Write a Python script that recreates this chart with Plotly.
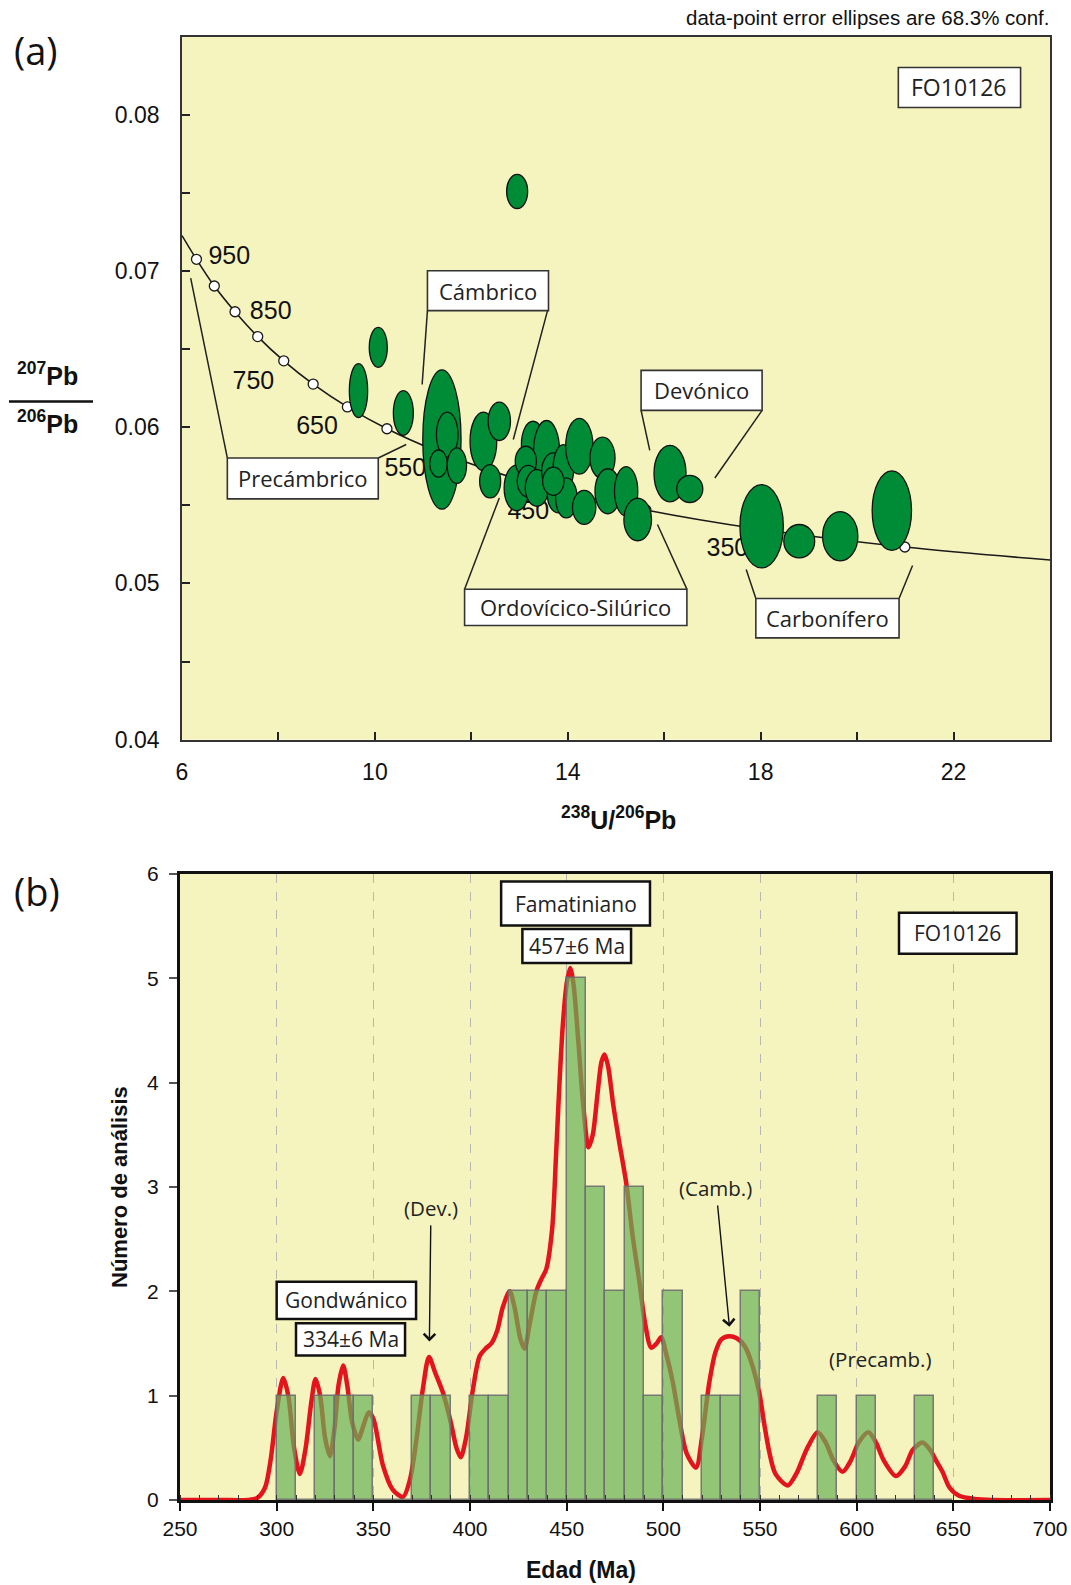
import plotly.graph_objects as go

W, H = 1071, 1585
BG = "#F6F4BE"
ARIAL = "Liberation Sans, Arial, sans-serif"
MYR = "Open Sans, sans-serif"

# ---------------- Panel (a): Tera-Wasserburg concordia ----------------
# concordia curve (238U/206Pb, 207Pb/206Pb)
conc_x = [24.0, 20.99, 17.92, 15.62, 13.83, 12.40, 11.23, 10.25, 9.43, 8.72, 8.11, 7.57, 7.10, 6.67, 6.30, 6.0]
conc_y = [0.05150, 0.05233, 0.05350, 0.05470, 0.05594, 0.05722, 0.05854, 0.05990, 0.06130,
          0.06276, 0.06425, 0.06580, 0.06739, 0.06904, 0.07075, 0.07227]
# age markers (every 50 Ma, 300-950 Ma)
mark_x = [20.99, 17.92, 15.62, 13.83, 12.40, 11.23, 10.25, 9.43, 8.72, 8.11, 7.57, 7.10, 6.67, 6.30]
mark_y = [0.05233, 0.05350, 0.05470, 0.05594, 0.05722, 0.05854, 0.05990, 0.06130,
          0.06276, 0.06425, 0.06580, 0.06739, 0.06904, 0.07075]
age_lab = ["950", "850", "750", "650", "550", "450", "350"]
age_lab_x = [6.98, 7.84, 7.48, 8.80, 10.63, 13.18, 17.31]
age_lab_y = [0.07083, 0.06731, 0.06286, 0.05997, 0.05729, 0.05451, 0.05214]

# error ellipses: centre and semi-axes
ell_x = [12.95, 10.07, 9.66, 10.59, 11.39, 11.50, 11.32, 11.70, 12.25, 12.58, 12.39, 12.94,
         13.28, 13.56, 13.13, 13.18, 13.36, 13.70, 13.91, 13.80, 13.97, 13.70, 14.24, 14.72,
         14.34, 14.83, 15.21, 15.45, 16.12, 16.53, 18.02, 18.80, 19.65, 20.72]
ell_y = [0.07509, 0.06511, 0.06234, 0.06091, 0.05921, 0.05953, 0.05767, 0.05754, 0.05910,
         0.06038, 0.05654, 0.05611, 0.05889, 0.05846, 0.05782, 0.05654, 0.05611, 0.05718,
         0.05739, 0.05569, 0.05547, 0.05654, 0.05878, 0.05803, 0.05487, 0.05590, 0.05590,
         0.05409, 0.05703, 0.05605, 0.05366, 0.05270, 0.05302, 0.05466]
ell_rx = [0.218, 0.187, 0.190, 0.207, 0.397, 0.224, 0.183, 0.200, 0.277, 0.232, 0.218, 0.260,
          0.242, 0.270, 0.220, 0.228, 0.242, 0.242, 0.214, 0.224, 0.224, 0.221, 0.283, 0.260,
          0.242, 0.266, 0.242, 0.287, 0.332, 0.270, 0.450, 0.320, 0.366, 0.408]
ell_ry = [0.00109, 0.00128, 0.00173, 0.00143, 0.00446, 0.00144, 0.00087, 0.00114, 0.00187,
          0.00123, 0.00107, 0.00146, 0.00149, 0.00197, 0.00096, 0.00101, 0.00117, 0.00117,
          0.00149, 0.00117, 0.00128, 0.00090, 0.00179, 0.00133, 0.00109, 0.00144, 0.00158,
          0.00136, 0.00181, 0.00087, 0.00267, 0.00107, 0.00158, 0.00255]

# period call-out boxes (x0, x1, y0, y1) and leader lines
callout_text = ["Cámbrico", "Precámbrico", "Devónico", "Ordovícico-Silúrico", "Carbonífero"]
callout_box = [(11.09, 13.60, 0.06746, 0.07002), (6.94, 10.07, 0.05541, 0.05803),
               (15.52, 18.03, 0.06108, 0.06364), (11.86, 16.47, 0.04730, 0.04963),
               (17.90, 20.87, 0.04651, 0.04903)]
callout_lines = [[((11.09, 0.06746), (10.98, 0.06273)), ((13.58, 0.06746), (12.87, 0.05921))],
                 [((6.94, 0.05803), (6.18, 0.06955)), ((10.07, 0.05803), (10.65, 0.05889))],
                 [((15.52, 0.06108), (15.70, 0.05852)), ((18.03, 0.06108), (17.05, 0.05675))],
                 [((11.86, 0.04963), (12.58, 0.05547)), ((16.47, 0.04963), (15.86, 0.05377))],
                 [((17.90, 0.04903), (17.70, 0.05089)), ((20.87, 0.04903), (21.15, 0.05114))]]

# ---------------- Panel (b): age histogram + probability curve ----------------
bin_start = [300, 310, 320, 330, 340, 350, 360, 370, 380, 390, 400, 410, 420, 430, 440, 450,
             460, 470, 480, 490, 500, 510, 520, 530, 540, 550, 560, 570, 580, 590, 600, 610,
             620, 630, 640]
bin_count = [1, 0, 1, 1, 1, 0, 0, 1, 1, 0, 1, 1, 2, 2, 2, 5,
             3, 2, 3, 1, 2, 0, 1, 1, 2, 0, 0, 0, 1, 0, 1, 0,
             0, 1, 0]
bin_width = 10

pdf_age = [250, 270, 285, 290, 294, 297, 300, 303.4, 306, 309, 312, 315, 318, 320.1, 322.5, 325,
           327.5, 330, 332, 334.4, 336.5, 339, 342.1, 345, 347.6, 350, 355, 360, 365.4, 369,
           372.3, 375.5, 378.8, 382, 386, 390, 393, 395.2, 398, 401.5, 405, 408, 411, 414, 417,
           420.5, 423, 426, 428.2, 431, 434.3, 437, 439.4, 442.5, 444.5, 446.3, 448, 450, 451.8,
           453.5, 456, 458.5, 461.3, 463.5, 466, 468, 469.6, 471.5, 474, 477, 480.8, 484, 487.7,
           490.5, 493.7, 496.5, 498.9, 501.5, 504.9, 508, 512, 516.9, 520, 523.8, 527, 530,
           534.1, 538, 541.9, 545, 549.6, 552, 554.8, 558, 564.3, 569, 574, 579.8, 584, 588,
           592.7, 597, 601, 606.1, 610, 614, 620.3, 625, 629, 634, 638, 641, 644.4, 648, 653,
           661, 670, 700]
pdf_val = [0.0, 0.0, 0.0, 0.02, 0.12, 0.40, 0.85, 1.17, 1.00, 0.50, 0.25, 0.50, 0.95, 1.16, 1.00,
           0.60, 0.42, 0.70, 1.10, 1.29, 1.10, 0.75, 0.58, 0.72, 0.84, 0.78, 0.33, 0.10, 0.03,
           0.20, 0.58, 1.05, 1.37, 1.22, 1.03, 0.75, 0.50, 0.41, 0.60, 1.06, 1.38, 1.45, 1.50,
           1.62, 1.85, 2.00, 1.85, 1.55, 1.45, 1.70, 2.00, 2.12, 2.21, 2.60, 3.30, 4.00, 4.55,
           4.95, 5.10, 4.95, 4.40, 3.80, 3.38, 3.50, 3.90, 4.20, 4.27, 4.15, 3.80, 3.45, 3.04,
           2.55, 2.08, 1.70, 1.46, 1.50, 1.56, 1.40, 1.13, 0.80, 0.45, 0.31, 0.60, 1.13, 1.42,
           1.54, 1.57, 1.55, 1.48, 1.35, 1.03, 0.75, 0.46, 0.25, 0.14, 0.26, 0.48, 0.65, 0.55,
           0.38, 0.27, 0.38, 0.55, 0.65, 0.55, 0.38, 0.23, 0.32, 0.48, 0.55, 0.48, 0.38, 0.27,
           0.12, 0.04, 0.01, 0.0, 0.0]

# boxed labels in panel b: text, (x0, x1, y0, y1)
b_box_text = ["Famatiniano", "457±6 Ma", "Gondwánico", "334±6 Ma", "FO10126"]
b_box = [(416.1, 493.1, 5.506, 5.928), (427.1, 483.3, 5.146, 5.472),
         (300.0, 372.1, 1.735, 2.093), (310.0, 366.4, 1.384, 1.694),
         (621.9, 682.7, 5.235, 5.628)]
# arrow notes: text, text position, arrow head (None = no arrow)
note_text = ["(Dev.)", "(Camb.)", "(Precamb.)"]
note_pos = [(379.8, 2.80), (527.2, 2.99), (612.1, 1.35)]
note_head = [(379.0, 1.52), (534.2, 1.66), None]


def px(x):
    return x / W


def py(y):
    return 1 - y / H


fig = go.Figure()

# ----- panel a traces -----
fig.add_trace(go.Scatter(x=conc_x, y=conc_y, mode="lines", line=dict(color="#1a1a1a", width=1.6, shape="spline"),
                         xaxis="x", yaxis="y", hoverinfo="skip", showlegend=False))
fig.add_trace(go.Scatter(x=mark_x, y=mark_y, mode="markers",
                         marker=dict(size=10, color="white", line=dict(color="#1a1a1a", width=1.3)),
                         xaxis="x", yaxis="y", showlegend=False))
fig.add_trace(go.Scatter(x=age_lab_x, y=age_lab_y, mode="text", text=age_lab,
                         textfont=dict(family=ARIAL, size=25, color="#111"),
                         xaxis="x", yaxis="y", showlegend=False))

shapes = []
for cx, cy, rx, ry in zip(ell_x, ell_y, ell_rx, ell_ry):
    shapes.append(dict(type="circle", xref="x", yref="y", x0=cx - rx, x1=cx + rx, y0=cy - ry, y1=cy + ry,
                       fillcolor="#008C36", line=dict(color="#111", width=1.3), layer="above"))

annotations = []
for txt, (x0, x1, y0, y1), lines in zip(callout_text, callout_box, callout_lines):
    for (a, b) in lines:
        shapes.append(dict(type="line", xref="x", yref="y", x0=a[0], y0=a[1], x1=b[0], y1=b[1],
                           line=dict(color="#222", width=1.5), layer="above"))
    shapes.append(dict(type="rect", xref="x", yref="y", x0=x0, x1=x1, y0=y0, y1=y1,
                       fillcolor="white", line=dict(color="#333", width=1.6), layer="above"))
    annotations.append(dict(text=txt, xref="x", yref="y", x=(x0 + x1) / 2, y=(y0 + y1) / 2,
                            xanchor="center", yanchor="middle",
                            showarrow=False, font=dict(family=MYR, size=22, color="#222")))

# FO10126 in panel a
shapes.append(dict(type="rect", xref="x", yref="y", x0=20.855, x1=23.39, y0=0.08047, y1=0.08303,
                   fillcolor="white", line=dict(color="#333", width=1.6), layer="above"))
annotations.append(dict(text="FO10126", xref="x", yref="y", x=22.12, y=0.08175, showarrow=False,
                        xanchor="center", yanchor="middle",
                        font=dict(family=MYR, size=23, color="#222")))

# ----- panel b traces -----
fig.add_trace(go.Scatter(x=pdf_age, y=pdf_val, mode="lines",
                         line=dict(color="#E3141C", width=4.5, shape="spline", smoothing=0.8),
                         xaxis="x2", yaxis="y2", hoverinfo="skip", showlegend=False))
fig.add_trace(go.Bar(x=bin_start, y=bin_count, width=bin_width, offset=0,
                     marker=dict(color="rgba(104,176,86,0.70)", line=dict(color="rgba(110,110,110,0.9)", width=1.5)),
                     xaxis="x2", yaxis="y3", showlegend=False))

for txt, (x0, x1, y0, y1) in zip(b_box_text, b_box):
    shapes.append(dict(type="rect", xref="x2", yref="y2", x0=x0, x1=x1, y0=y0, y1=y1,
                       fillcolor="white", line=dict(color="#111", width=2.5), layer="above"))
    annotations.append(dict(text=txt, xref="x2", yref="y2", x=(x0 + x1) / 2, y=(y0 + y1) / 2,
                            xanchor="center", yanchor="middle",
                            showarrow=False, font=dict(family=MYR, size=21, color="#222")))

for txt, pos, head in zip(note_text, note_pos, note_head):
    if head is None:
        annotations.append(dict(text=txt, xref="x2", yref="y2", x=pos[0], y=pos[1], showarrow=False,
                                xanchor="center", yanchor="middle",
                                font=dict(family=MYR, size=20.5, color="#222")))
    else:
        annotations.append(dict(text=txt, xref="x2", yref="y2", x=head[0], y=head[1],
                                axref="x2", ayref="y2", ax=pos[0], ay=pos[1], showarrow=True,
                                xanchor="center", yanchor="middle", startstandoff=2,
                                arrowhead=4, arrowsize=1.6, arrowwidth=1.4, arrowcolor="#111",
                                font=dict(family=MYR, size=20.5, color="#222")))


# ----- paper-level text -----
def ptxt(text, x, y, size, family=ARIAL, angle=0, xanchor="center"):
    return dict(text=text, xref="paper", yref="paper", x=px(x), y=py(y), showarrow=False,
                xanchor=xanchor, yanchor="middle", textangle=angle,
                font=dict(family=family, size=size, color="#111"))


annotations += [
    ptxt("(a)", 36, 50, 38, MYR),
    ptxt("(b)", 37, 891, 38, MYR),
    ptxt("data-point error ellipses are 68.3% conf.", 1052, 18, 20.5, xanchor="right"),
    ptxt("<b><sup>238</sup>U/<sup>206</sup>Pb</b>", 618, 818, 25),
    ptxt("<b><sup>207</sup>Pb</b>", 47, 374, 25),
    ptxt("<b><sup>206</sup>Pb</b>", 47, 422, 25),
    ptxt("<b>Edad (Ma)</b>", 581, 1570, 23),
    ptxt("<b>Número de análisis</b>", 119, 1187, 22, angle=-90),
]
shapes.append(dict(type="line", xref="paper", yref="paper", x0=px(9), x1=px(93), y0=py(401.5), y1=py(401.5),
                   line=dict(color="#111", width=2.5)))

fig.update_layout(
    width=W, height=H, margin=dict(l=0, r=0, t=0, b=0, autoexpand=False),
    paper_bgcolor="white", plot_bgcolor=BG, showlegend=False, bargap=0,
    xaxis=dict(domain=[px(182), px(1050)], range=[6, 24], anchor="y", automargin=False,
               tick0=6, dtick=4, ticks="inside", ticklen=8, tickwidth=1.5, tickcolor="#222",
               minor=dict(dtick=2, ticks="inside", ticklen=8, tickwidth=1.5, tickcolor="#222", showgrid=False),
               showline=True, mirror=True, linecolor="#333", linewidth=1.6, showgrid=False, zeroline=False,
               tickfont=dict(family=ARIAL, size=23, color="#111"), ticklabelstandoff=11),
    yaxis=dict(domain=[py(739.6), py(36.7)], range=[0.04, 0.085], anchor="x", automargin=False,
               tick0=0.04, dtick=0.01, tickformat=".2f", ticks="inside", ticklen=8, tickwidth=1.5, tickcolor="#222",
               minor=dict(dtick=0.005, ticks="inside", ticklen=8, tickwidth=1.5, tickcolor="#222", showgrid=False),
               showline=True, mirror=True, linecolor="#333", linewidth=1.6, showgrid=False, zeroline=False,
               tickfont=dict(family=ARIAL, size=23, color="#111"), ticklabelstandoff=16),
    xaxis2=dict(domain=[px(180), px(1050)], range=[250, 700], anchor="y2", dtick=50, tick0=250, automargin=False,
                ticks="outside", ticklen=8, tickwidth=1.5, tickcolor="#111",
                minor=dict(dtick=10, ticks="inside", ticklen=5, tickwidth=1.2, tickcolor="#333", showgrid=False),
                showline=True, mirror=True, linecolor="#111", linewidth=3,
                showgrid=True, gridcolor="#B8B8B0", griddash="dash", gridwidth=1, zeroline=False,
                tickfont=dict(family=ARIAL, size=21, color="#111"), ticklabelstandoff=0),
    yaxis2=dict(domain=[py(1500), py(874)], range=[0, 6], anchor="x2", dtick=1, automargin=False,
                ticks="outside", ticklen=8, tickwidth=1.5, tickcolor="#555",
                showline=True, mirror=True, linecolor="#111", linewidth=3, showgrid=False, zeroline=False,
                tickfont=dict(family=ARIAL, size=21, color="#111"), ticklabelstandoff=6),
    yaxis3=dict(overlaying="y2", range=[0, 6], anchor="x2", visible=False, showticklabels=False,
                showgrid=False, zeroline=False, automargin=False),
    shapes=shapes, annotations=annotations,
)

fig.write_html("out.html")
